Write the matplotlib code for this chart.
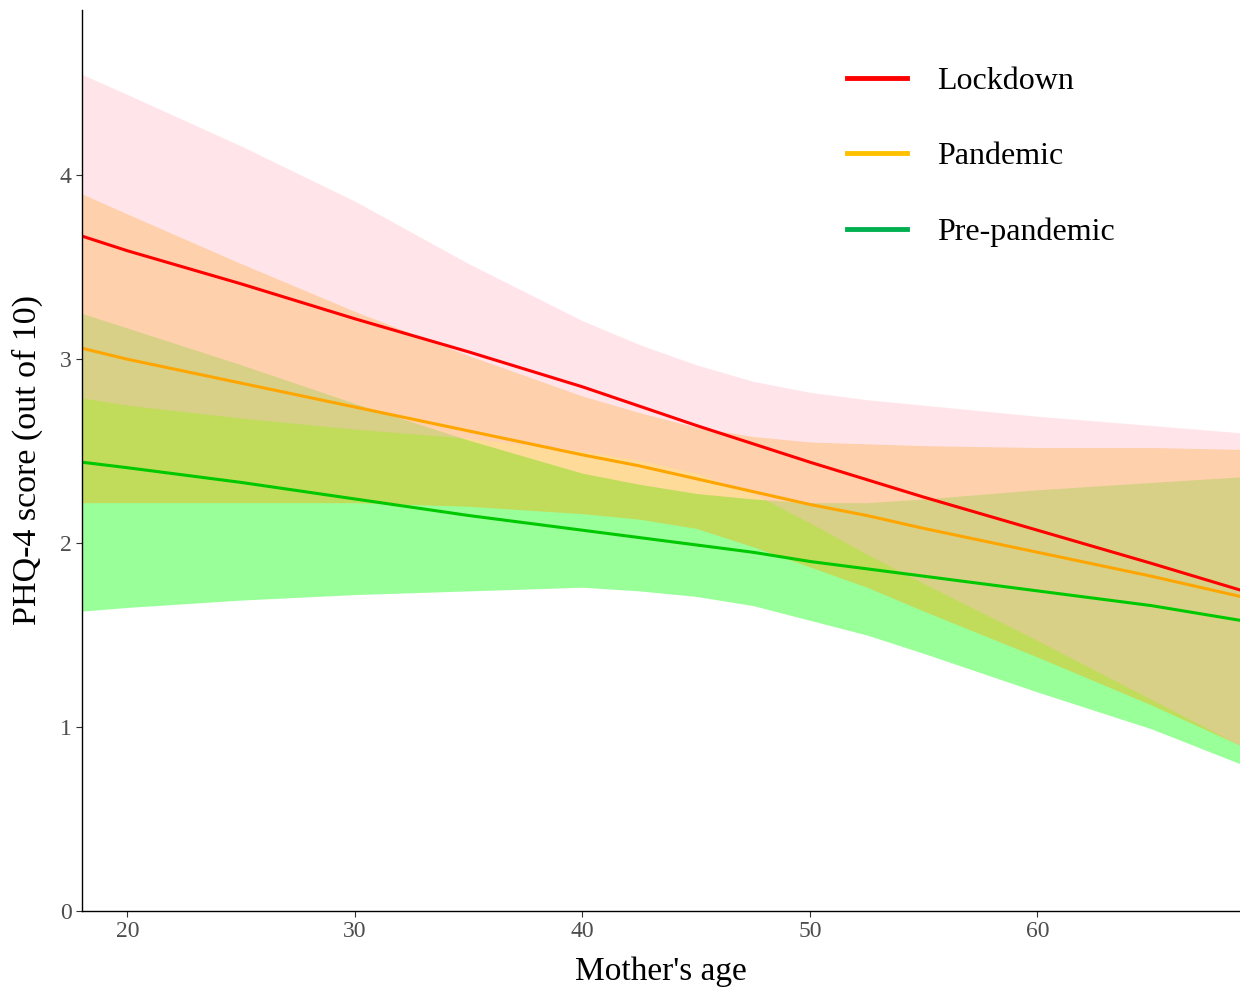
import numpy as np
import matplotlib.pyplot as plt
from matplotlib.lines import Line2D

plt.rcParams['font.family'] = ['Liberation Serif', 'DejaVu Serif']

age = [18, 20, 25, 30, 35, 40, 42.5, 45, 47.5, 50, 52.5, 55, 60, 65, 68.9]

# Lockdown
lock_fit = [3.67, 3.59, 3.41, 3.22, 3.04, 2.85, 2.745, 2.64, 2.54, 2.44, 2.345, 2.25, 2.07, 1.89, 1.745]
lock_lo = [2.79, 2.75, 2.68, 2.62, 2.57, 2.50, 2.45, 2.38, 2.27, 2.11, 1.94, 1.78, 1.47, 1.15, 0.90]
lock_hi = [4.55, 4.44, 4.16, 3.86, 3.52, 3.21, 3.08, 2.97, 2.88, 2.82, 2.78, 2.75, 2.69, 2.64, 2.60]

# Pandemic
pand_fit = [3.06, 3.00, 2.87, 2.74, 2.61, 2.48, 2.42, 2.35, 2.28, 2.21, 2.15, 2.08, 1.95, 1.82, 1.71]
pand_lo = [2.22, 2.22, 2.22, 2.22, 2.20, 2.16, 2.13, 2.08, 1.98, 1.87, 1.76, 1.63, 1.38, 1.12, 0.90]
pand_hi = [3.90, 3.79, 3.52, 3.26, 3.02, 2.80, 2.71, 2.63, 2.58, 2.55, 2.54, 2.53, 2.52, 2.52, 2.51]

# Pre-pandemic
pre_fit = [2.44, 2.41, 2.33, 2.24, 2.15, 2.07, 2.03, 1.99, 1.95, 1.90, 1.86, 1.82, 1.74, 1.66, 1.58]
pre_lo = [1.63, 1.65, 1.69, 1.72, 1.74, 1.76, 1.74, 1.71, 1.66, 1.58, 1.50, 1.40, 1.19, 0.99, 0.80]
pre_hi = [3.25, 3.17, 2.97, 2.76, 2.56, 2.38, 2.32, 2.27, 2.24, 2.22, 2.22, 2.24, 2.29, 2.33, 2.36]

legend_labels = ['Lockdown', 'Pandemic', 'Pre-pandemic']
legend_colors = ['#FF0000', '#FFC000', '#00B050']

fig = plt.figure(figsize=(12.4, 9.9), dpi=100)
ax = fig.add_axes([0.066, 0.08, 0.934, 0.91])

# drawn in this order so the overlaps blend like the original
ax.fill_between(age, pre_lo, pre_hi, color='#00FF00', alpha=0.4, lw=0)
ax.plot(age, pre_fit, color='#00C800', lw=2.2)
ax.fill_between(age, pand_lo, pand_hi, color='#FFA500', alpha=0.4, lw=0)
ax.plot(age, pand_fit, color='#FFA500', lw=2.2)
ax.fill_between(age, lock_lo, lock_hi, color='#FFC0CB', alpha=0.4, lw=0)
ax.plot(age, lock_fit, color='#FF0000', lw=2.2)

ax.set_xlim(18, 68.9)
ax.set_ylim(0, 4.9)
ax.set_xticks([20, 30, 40, 50, 60])
ax.set_yticks([0, 1, 2, 3, 4])
ax.tick_params(labelsize=17, labelcolor='#4D4D4D', length=4, width=0.8, color='#333333')
for s in ['top', 'right']:
    ax.spines[s].set_visible(False)
for s in ['left', 'bottom']:
    ax.spines[s].set_linewidth(1.0)

ax.set_xlabel("Mother's age", fontsize=24, labelpad=10)
ax.set_ylabel('PHQ-4 score (out of 10)', fontsize=24.5, labelpad=12)

handles = [Line2D([], [], color=c, lw=3.5) for c in legend_colors]
fig.legend(handles, legend_labels, loc='upper left', bbox_to_anchor=(0.660, 0.962),
           frameon=False, fontsize=23, handlelength=1.88, handletextpad=0.95,
           labelspacing=1.45)

fig.savefig('out.png', dpi=100)
